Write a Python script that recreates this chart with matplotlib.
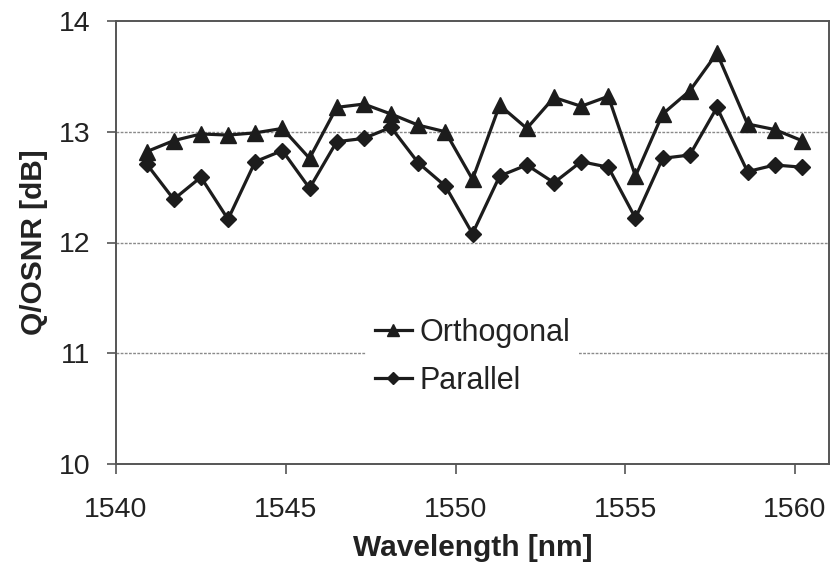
import matplotlib
matplotlib.use("Agg")
import matplotlib.pyplot as plt

plt.rcParams['font.family'] = ['Liberation Sans', 'DejaVu Sans']

# wavelength channels [nm]
wavelength = [1540.9, 1541.7, 1542.5, 1543.3, 1544.1, 1544.9, 1545.7, 1546.5,
              1547.3, 1548.1, 1548.9, 1549.7, 1550.5, 1551.3, 1552.1, 1552.9,
              1553.7, 1554.5, 1555.3, 1556.1, 1556.9, 1557.7, 1558.6, 1559.4,
              1560.2]

# Q/OSNR [dB]
orthogonal = [12.82, 12.92, 12.98, 12.97, 12.99, 13.03, 12.76, 13.22, 13.25,
              13.16, 13.06, 13.00, 12.57, 13.24, 13.03, 13.31, 13.23, 13.32,
              12.60, 13.16, 13.37, 13.71, 13.07, 13.02, 12.92]
parallel = [12.71, 12.39, 12.59, 12.21, 12.73, 12.83, 12.49, 12.91, 12.94,
            13.04, 12.72, 12.51, 12.08, 12.60, 12.70, 12.54, 12.73, 12.68,
            12.22, 12.76, 12.79, 13.22, 12.64, 12.70, 12.68]

xticks = [1540, 1545, 1550, 1555, 1560]
yticks = [10, 11, 12, 13, 14]
grid_levels = [11, 12, 13]

fig = plt.figure(figsize=(8.34, 5.64), dpi=100)
ax = fig.add_axes([116 / 834, 1 - 464 / 564, (829 - 116) / 834, (464 - 21) / 564])

for g in grid_levels:
    ax.axhline(g, color='#8a8a8a', lw=1.0, ls=(0, (2.0, 1.0)), zorder=1)

ink = '#1c1c1c'
ax.plot(wavelength, orthogonal, color=ink, lw=2.3, marker='^', ms=11,
        label='Orthogonal', zorder=3)
ax.plot(wavelength, parallel, color=ink, lw=2.3, marker='D', ms=8.5,
        label='Parallel', zorder=3)

ax.set_xlim(1540, 1561)
ax.set_ylim(10, 14)
ax.set_xticks(xticks)
ax.set_yticks(yticks)

for s in ax.spines.values():
    s.set_color('#555555')
    s.set_linewidth(1.4)

ax.tick_params(axis='x', direction='out', length=7, width=1.2, color='#555555',
               pad=17, labelsize=20.5, labelcolor='#222222')
ax.tick_params(axis='y', direction='out', length=6.5, width=1.2, color='#555555',
               pad=12, labelsize=20.5, labelcolor='#222222')

ax.set_xlabel('Wavelength [nm]', fontsize=21.5, fontweight='bold', color='#222222',
              labelpad=8)
ax.set_ylabel('Q/OSNR [dB]', fontsize=21.5, fontweight='bold', color='#222222',
              labelpad=8)

leg = ax.legend(loc='center', bbox_to_anchor=(472.5 / 834, 1 - 357 / 564),
                bbox_transform=fig.transFigure, fontsize=22, frameon=True,
                facecolor='white', edgecolor='none', framealpha=1,
                fancybox=False, handlelength=1.2, handletextpad=0.25,
                labelspacing=0.6, markerscale=0.75, borderpad=0.3)
leg.set_zorder(4)
for t in leg.get_texts():
    t.set_color('#222222')

fig.savefig('out.png', dpi=100)
